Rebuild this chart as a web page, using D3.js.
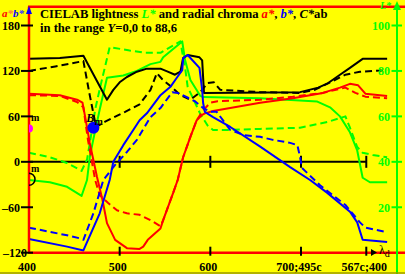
<!DOCTYPE html>
<html><head><meta charset="utf-8">
<script src="https://cdn.jsdelivr.net/npm/d3@7"></script>
<style>html,body{margin:0;padding:0;background:#ffff00;overflow:hidden}svg{display:block}</style>
</head><body>
<script>
// ---- data (x in nm-equivalent; 772 = 567c;400 end of purple line) ----
const xTickValues = [400, 500, 600, 700, 772];
const xTickLabels = ["400", "500", "600", "700;495c", "567c;400"];
const yTickValues = [-120, -60, 0, 60, 120, 180];
const lTickValues = [20, 40, 60, 80, 100];

// C*ab (black)
const chromaSolid = [[400,136],[434,137],[460,140],[486,82],[493,95],[500,105],[508,112],[519,119],[530,123],[545,123],[553,119],[561,115],[567,119],[570,137],[575,141],[588,138],[591,134],[593,91],[699,92],[719,98],[730,104],[743,115],[754,124],[768,136],[795,136]];
const chromaDashed = [[400,120],[429,126],[460,133],[467,88],[474,46],[484,53],[506,66],[522,76],[534,95],[541,117],[547,109],[556,100],[567,88],[578,82],[589,92],[597,104],[604,105],[611,95],[655,92],[699,91],[715,95],[732,105],[749,115],[765,119],[795,121]];
// a* (red)
const aSolid = [[400,90],[434,88],[453,82],[459,78],[462,59],[467,25],[475,-20],[481,-50],[486,-81],[495,-103],[508,-114],[522,-115],[526,-112],[531,-103],[545,-88],[548,-77],[559,-41],[564,-24],[570,6],[578,33],[585,55],[591,62],[594,64],[603,67],[655,78],[691,84],[724,91],[743,98],[754,103],[763,101],[771,90],[795,87]];
const aDashed = [[400,88],[434,87],[453,79],[460,72],[465,29],[473,-24],[478,-44],[487,-54],[497,-64],[508,-68],[522,-70],[534,-77],[545,-85],[548,-77],[559,-41],[564,-24],[570,6],[578,33],[585,55],[592,68],[600,78],[608,80],[655,82],[691,86],[724,91],[749,98],[760,91],[771,86],[795,84]];
// b* (blue)
const bSolid = [[400,-102],[442,-112],[460,-117],[478,-68],[489,-24],[493,0],[504,22],[515,42],[522,55],[530,64],[545,88],[556,99],[563,111],[569,121],[570,137],[575,141],[588,124],[591,95],[592,78],[594,66],[603,59],[622,46],[655,20],[688,-7],[710,-24],[729,-41],[754,-66],[762,-80],[768,-103],[795,-106]];
const bDashed = [[400,-87],[442,-97],[456,-101],[460,-103],[471,-68],[482,-24],[495,-4],[508,13],[519,29],[534,59],[545,71],[558,92],[564,91],[573,86],[583,80],[592,71],[600,66],[607,66],[622,42],[638,35],[655,33],[669,29],[688,25],[696,22],[699,6],[701,-8],[721,-31],[749,-57],[765,-80],[771,-87],[795,-93]];
// L* (green, right axis)
const lSolid = [[400,32],[423,31],[442,29],[458,25],[464,32],[467,42],[471,50],[478,63],[486,77],[504,78],[519,80],[534,83],[545,84],[548,86],[569,93],[572,85],[578,76],[589,69],[592,68.5],[655,68],[718,66.5],[732,64],[743,60],[754,53],[762,45],[768,33],[776,31],[795,31]];
const lDashed = [[400,44],[423,42],[442,39.5],[458,36],[464,41],[467,48],[473,63],[478,72],[489,90.5],[511,89],[528,88],[545,88],[567,93],[570,86],[572,82],[575,73],[589,61],[597,56],[603,54],[618,54],[655,54.5],[699,55],[729,57.5],[749,60],[754,55],[762,46.5],[768,44],[779,43],[795,42]];
// special points
const pointB = [471, 45];   // B_m (blue dot)
const pointM = [400, 44];   // m (magenta)
const pointZ = [400, -23];  // m (black open)

const W = 405, H = 274;
const svg = d3.select("body").append("svg").attr("width", W).attr("height", H)
  .attr("font-family", "'Liberation Serif','Times New Roman',serif").attr("font-weight", "bold");
svg.append("rect").attr("width", W).attr("height", H).attr("fill", "#ffff00");

const x = d3.scaleLinear().domain([400, 700]).range([29, 301]);
const y = d3.scaleLinear().domain([-120, 180]).range([252.7, 25.5]);
const yL = d3.scaleLinear().domain([0, 100]).range([252.7, 25.5]);

const frameLeft = 29, frameTop = 6.7, frameBottom = 252.7, rightAxis = 397;

// zero line
svg.append("line").attr("x1", x(400)).attr("x2", x(772)).attr("y1", y(0)).attr("y2", y(0))
  .attr("stroke", "#000").attr("stroke-width", 2);
xTickValues.slice(1).forEach(v => {
  svg.append("line").attr("x1", x(v)).attr("x2", x(v)).attr("y1", y(0) - 6).attr("y2", y(0) + 6).attr("stroke", "#000").attr("stroke-width", 2);
});

// curves
const lineL = d3.line().x(d => x(d[0])).y(d => y(d[1]));
const lineG = d3.line().x(d => x(d[0])).y(d => yL(d[1]));
const curves = [
  [lSolid, "#00ff00", null, lineG], [lDashed, "#00ff00", "7,4", lineG],
  [chromaDashed, "#000", "7,4", lineL], [chromaSolid, "#000", null, lineL],
  [aDashed, "#ff0000", "7,4", lineL], [aSolid, "#ff0000", null, lineL],
  [bDashed, "#0000ff", "7,4", lineL], [bSolid, "#0000ff", null, lineL]
];
curves.forEach(([d, c, dash, gen]) => {
  svg.append("path").attr("d", gen(d)).attr("fill", "none").attr("stroke", c)
    .attr("stroke-width", 2).attr("stroke-dasharray", dash).attr("stroke-linejoin", "round");
});

// frame: red left, top, bottom
svg.append("line").attr("x1", frameLeft).attr("x2", frameLeft).attr("y1", frameTop).attr("y2", frameBottom).attr("stroke", "#ff0000").attr("stroke-width", 2.5);
svg.append("line").attr("x1", frameLeft - 1).attr("x2", W).attr("y1", frameTop).attr("y2", frameTop).attr("stroke", "#ff0000").attr("stroke-width", 2.5);
svg.append("line").attr("x1", frameLeft - 1).attr("x2", W).attr("y1", frameBottom).attr("y2", frameBottom).attr("stroke", "#ff0000").attr("stroke-width", 2.5);

// left ticks & labels
yTickValues.forEach(v => {
  svg.append("line").attr("x1", 21).attr("x2", 33).attr("y1", y(v)).attr("y2", y(v)).attr("stroke", "#000").attr("stroke-width", 2);
  svg.append("text").attr("x", v === -120 ? 27 : 20).attr("y", y(v) + 4.5).attr("text-anchor", "end").attr("font-size", 12)
    .text(v < 0 ? "\u2013" + Math.abs(v) : v);
});
// bottom ticks & labels
xTickValues.forEach((v, i) => {
  if (i > 0) svg.append("line").attr("x1", x(v)).attr("x2", x(v)).attr("y1", frameBottom - 6).attr("y2", frameBottom + 3).attr("stroke", "#000").attr("stroke-width", 2);
  svg.append("text").attr("x", x(v) - 2).attr("y", 271).attr("text-anchor", "middle").attr("font-size", 12).text(xTickLabels[i]);
});

// right L* axis
svg.append("line").attr("x1", rightAxis).attr("x2", rightAxis).attr("y1", 3).attr("y2", H).attr("stroke", "#00ff00").attr("stroke-width", 2);
svg.append("path").attr("d", `M${rightAxis - 4},10 L${rightAxis},1 L${rightAxis + 4},10 Z`).attr("fill", "#00ff00");
lTickValues.forEach(v => {
  svg.append("line").attr("x1", 391.5).attr("x2", 402).attr("y1", yL(v)).attr("y2", yL(v)).attr("stroke", "#00ff00").attr("stroke-width", 2);
  svg.append("text").attr("x", 390).attr("y", yL(v) + 4.5).attr("text-anchor", "end").attr("font-size", 12).attr("fill", "#00ff00").text(v);
});
svg.append("text").attr("x", 380).attr("y", 9).attr("font-size", 10).attr("font-style", "italic").attr("fill", "#00ff00").text("L*");

// left axis arrow + a*b* label
svg.append("path").attr("d", `M${frameLeft - 3},14 L${frameLeft},6 L${frameLeft + 3},14 Z`).attr("fill", "#0000ff");
const ab = svg.append("text").attr("x", 2).attr("y", 16.5).attr("font-size", 11).attr("font-style", "italic");
ab.append("tspan").attr("fill", "#ff0000").text("a");
ab.append("tspan").attr("fill", "#ff8040").text("*");
ab.append("tspan").attr("fill", "#0000ff").text("b");
ab.append("tspan").attr("fill", "#4040ff").text("*");

// title
const t1 = svg.append("text").attr("x", 40).attr("y", 18.3).attr("font-size", 12.6);
t1.append("tspan").text("CIELAB lightness ");
t1.append("tspan").attr("fill", "#00ff00").attr("font-style", "italic").text("L*");
t1.append("tspan").text(" and radial chroma ");
t1.append("tspan").attr("fill", "#ff0000").attr("font-style", "italic").text("a*");
t1.append("tspan").text(", ");
t1.append("tspan").attr("fill", "#0000ff").attr("font-style", "italic").text("b*");
t1.append("tspan").text(", ");
t1.append("tspan").attr("font-style", "italic").text("C*");
t1.append("tspan").text("ab");
const t2 = svg.append("text").attr("x", 40).attr("y", 31.7).attr("font-size", 12.6);
t2.append("tspan").text("in the range ");
t2.append("tspan").attr("font-style", "italic").text("Y");
t2.append("tspan").text("=0,0 to 88,6");

// markers
svg.append("circle").attr("cx", x(pointB[0])).attr("cy", y(pointB[1])).attr("r", 6).attr("fill", "#0000ff");
const bl = svg.append("text").attr("x", x(pointB[0]) - 7).attr("y", y(pointB[1]) - 6).attr("font-size", 12).attr("font-style", "italic");
bl.append("tspan").text("B");
bl.append("tspan").attr("font-style", "normal").attr("font-size", 10).attr("dy", 3).text("m");
svg.append("path").attr("d", `M${x(pointM[0])},${y(pointM[1]) - 4} A4,4 0 0 1 ${x(pointM[0])},${y(pointM[1]) + 4} Z`).attr("fill", "#ff00ff");
svg.append("text").attr("x", x(pointM[0]) + 2).attr("y", y(pointM[1]) - 7).attr("font-size", 10).text("m");
svg.append("path").attr("d", `M${x(pointZ[0])},${y(pointZ[1]) - 6} A6,6 0 0 1 ${x(pointZ[0])},${y(pointZ[1]) + 6}`).attr("fill", "none").attr("stroke", "#000").attr("stroke-width", 1.5);
svg.append("text").attr("x", x(pointZ[0]) + 2).attr("y", y(0) + 10).attr("font-size", 10).text("m");

// lambda_d label
svg.append("path").attr("d", "M371,249 L377,252.5 L371,256 Z").attr("fill", "#000");
const ld = svg.append("text").attr("x", 379).attr("y", 254).attr("font-size", 12).attr("font-weight", "normal");
ld.append("tspan").text("\u03bb");
ld.append("tspan").attr("dy", 3).attr("font-size", 10).text("d");

// border
svg.append("line").attr("x1", 0).attr("x2", W).attr("y1", H - 1).attr("y2", H - 1).attr("stroke", "#9a9a00").attr("stroke-width", 1.5);
</script>
</body></html>
